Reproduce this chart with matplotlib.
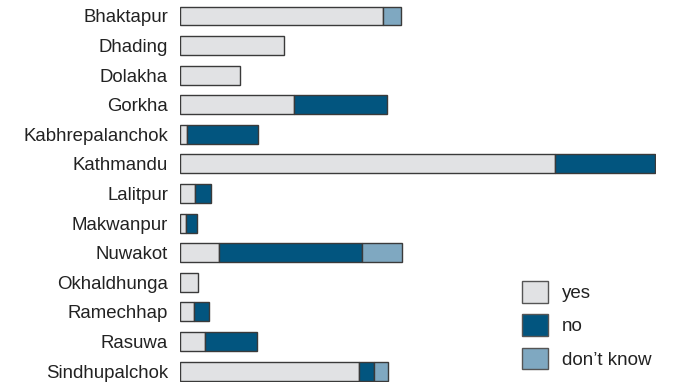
import matplotlib.pyplot as plt
import matplotlib.patches as mpatches
import numpy as np

plt.rcParams["font.family"] = ["Liberation Sans", "DejaVu Sans"]

districts = ["Bhaktapur", "Dhading", "Dolakha", "Gorkha", "Kabhrepalanchok",
             "Kathmandu", "Lalitpur", "Makwanpur", "Nuwakot", "Okhaldhunga",
             "Ramechhap", "Rasuwa", "Sindhupalchok"]
yes = [203, 104, 60, 114, 7, 375, 15, 6, 39, 18, 14, 25, 179]
no = [0, 0, 0, 93, 71, 100, 16, 11, 143, 0, 15, 52, 15]
dont_know = [18, 0, 0, 0, 0, 0, 0, 0, 40, 0, 0, 0, 14]

colors = {"yes": "#e1e2e4", "no": "#02557f", "don’t know": "#7fa8c1"}
edge = "#3a3a3a"

fig = plt.figure(figsize=(6.75, 3.82), dpi=100)
ax = fig.add_axes([180 / 675, 0, 476 / 675, 1])

y = np.arange(len(districts))
yes = np.array(yes)
no = np.array(no)
dont_know = np.array(dont_know)

# empty segments are skipped so their outlines don't show
left = np.zeros(len(districts))
for vals, key in [(yes, "yes"), (no, "no"), (dont_know, "don’t know")]:
    m = vals > 0
    ax.barh(y[m], vals[m], left=left[m], height=0.64, color=colors[key],
            edgecolor=edge, linewidth=1)
    left = left + vals

ax.set_xlim(0, 476)
ax.set_ylim(12.37, -0.54)
ax.set_yticks(y)
ax.set_yticklabels(districts, fontsize=13.4, color="#222222")
ax.tick_params(axis="y", length=0, pad=8.6)
ax.set_xticks([])
for s in ax.spines.values():
    s.set_visible(False)

handles = [mpatches.Patch(facecolor=c, edgecolor="#555555", linewidth=1, label=k)
           for k, c in colors.items()]
fig.legend(handles=handles, loc="upper left", bbox_to_anchor=(507 / 675, 1 - 266 / 382),
           frameon=False, fontsize=13.5, handlelength=1.39, handleheight=1.4,
           labelspacing=0.62, handletextpad=0.75, borderpad=0.3,
           labelcolor="#222222")

fig.savefig("out.png", dpi=100)
